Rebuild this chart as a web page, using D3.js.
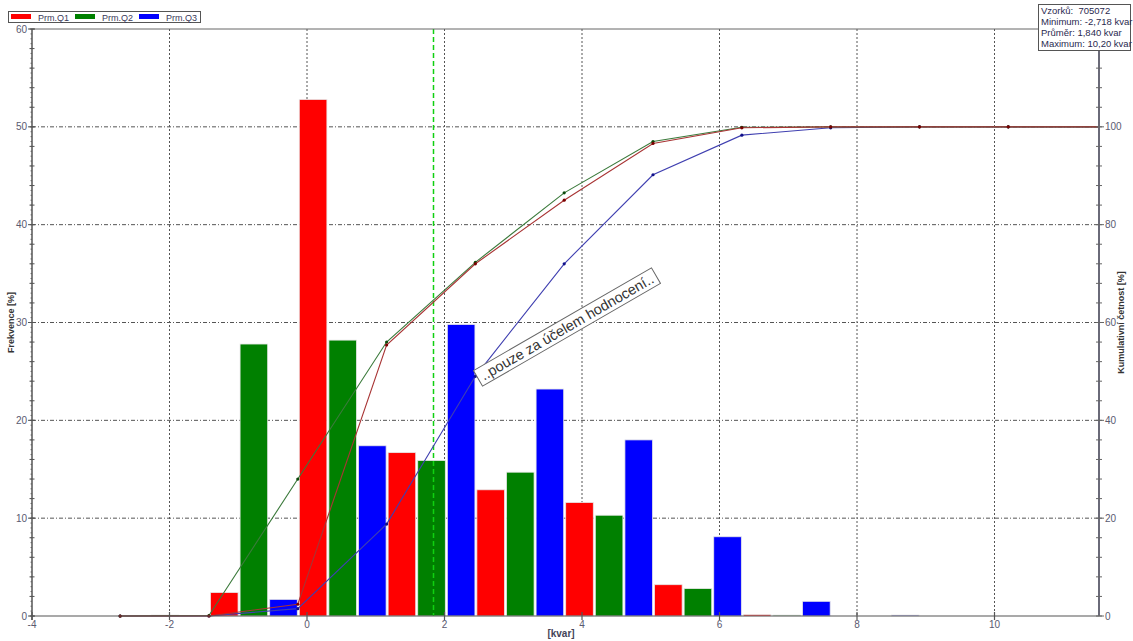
<!DOCTYPE html>
<html><head><meta charset="utf-8">
<script src="https://cdn.jsdelivr.net/npm/d3@7"></script>
<style>
body{margin:0;background:#fff;}
text{font-family:"Liberation Sans",Arial,sans-serif;}
</style></head>
<body><svg id="c" width="1133" height="641"></svg>
<script>
// ---- data ----
const series = ["Prm.Q1","Prm.Q2","Prm.Q3"];
const barColors = ["#ff0000","#008000","#0000ff"];
const lineColors = ["#a83434","#3b7a3b","#3f3fb0"];
const markColors = ["#7a0000","#0b4a0b","#10108a"];
// bin edges (10 bins from minimum to maximum)
const binEdges = [-2.718,-1.426,-0.134,1.158,2.449,3.741,5.033,6.325,7.617,8.909,10.20];
const freqQ1 = [0, 2.4, 52.8, 16.7, 12.9, 11.6, 3.2, 0.15, 0, 0];
const freqQ2 = [0.1, 27.8, 28.2, 15.9, 14.7, 10.3, 2.8, 0.1, 0, 0];
const freqQ3 = [0, 1.7, 17.4, 29.8, 23.2, 18.0, 8.1, 1.5, 0.1, 0];
const cumQ1 = [0, 0, 2.4, 55.4, 72.0, 85.0, 96.6, 99.8, 100, 100, 100];
const cumQ2 = [0, 0.1, 28.0, 56.0, 72.3, 86.5, 97.0, 99.9, 100, 100, 100];
const cumQ3 = [0, 0, 1.5, 18.8, 49.0, 72.0, 90.2, 98.3, 99.8, 100, 100];
const meanValue = 1.840;
const xTicks = [-4,-2,0,2,4,6,8,10];
const yTicks = [0,10,20,30,40,50,60];
const yRightTicks = [0,20,40,60,80,100];
const statsLines = ["Vzorků:  705072","Minimum: -2,718 kvar","Průměr: 1,840 kvar","Maximum: 10,20 kvar"];
const annotation = "..pouze za účelem hodnocení..";
const xLabel = "[kvar]";
const yLabel = "Frekvence [%]";
const yRightLabel = "Kumulativní četnost [%]";

const freqs = [freqQ1,freqQ2,freqQ3];
const cums = [cumQ1,cumQ2,cumQ3];

// ---- layout ----
const L = 32, R = 1099, T = 29, B = 616;
const svg = d3.select("#c");
const x = d3.scaleLinear().domain([-4, 11.52]).range([L, R]);
const y = d3.scaleLinear().domain([0, 60]).range([B, T]);
const y2 = d3.scaleLinear().domain([0, 120]).range([B, T]);
const tickCol = "#5a5a70";

// grid
const grid = svg.append("g");
xTicks.filter(v => v > -4).forEach(v => {
  grid.append("line").attr("x1", x(v)).attr("x2", x(v)).attr("y1", T).attr("y2", B)
    .attr("stroke", "#555").attr("stroke-width", 1).attr("stroke-dasharray", "2,2");
});
yTicks.filter(v => v > 0 && v < 60).forEach(v => {
  grid.append("line").attr("x1", L).attr("x2", R).attr("y1", y(v)).attr("y2", y(v))
    .attr("stroke", "#555").attr("stroke-width", 1).attr("stroke-dasharray", "4,2,1,2");
});

// bars
const bars = svg.append("g");
const bw = x(binEdges[1]) - x(binEdges[0]);
const slot = bw / 3;
freqs.forEach((f, si) => {
  bars.selectAll(null).data(f).enter().append("rect")
    .attr("x", (d, i) => x(binEdges[i]) + si * slot + 1.5)
    .attr("width", slot - 2)
    .attr("y", d => y(d))
    .attr("height", d => B - y(d))
    .attr("fill", barColors[si])
    .attr("stroke", "#e8e8e8").attr("stroke-width", d => d > 0 ? 0.8 : 0);
});

// mean line
svg.append("line").attr("x1", x(meanValue)).attr("x2", x(meanValue)).attr("y1", T).attr("y2", B)
  .attr("stroke", "#10d010").attr("stroke-width", 1.5).attr("stroke-dasharray", "5,3");

// cumulative curves (drawn Q3, Q2, Q1 so Q1 is on top)
const line = d3.line().x(d => x(d[0])).y(d => y2(d[1]));
[2, 1, 0].forEach(si => {
  const c = cums[si];
  const pts = binEdges.map((e, i) => [e, c[i]]);
  const ext = pts.concat([[x.domain()[1], c[c.length - 1]]]);
  svg.append("path").attr("d", line(ext)).attr("fill", "none")
    .attr("stroke", lineColors[si]).attr("stroke-width", 1.1);
  svg.append("g").selectAll("circle").data(pts).enter().append("circle")
    .attr("cx", d => x(d[0])).attr("cy", d => y2(d[1])).attr("r", 1.6)
    .attr("fill", markColors[si]);
});

// frame
svg.append("line").attr("x1", L).attr("x2", R).attr("y1", T).attr("y2", T).attr("stroke", "#666").attr("stroke-width", 1);
svg.append("line").attr("x1", L).attr("x2", R).attr("y1", B).attr("y2", B).attr("stroke", "#555").attr("stroke-width", 1.2);
svg.append("line").attr("x1", L).attr("x2", L).attr("y1", T).attr("y2", B + 4).attr("stroke", "#555").attr("stroke-width", 1.5);
svg.append("line").attr("x1", R).attr("x2", R).attr("y1", T - 6).attr("y2", B).attr("stroke", "#6a6a78").attr("stroke-width", 2);

// left axis ticks
const ax = svg.append("g");
d3.range(0, 60.01, 0.5).forEach(v => {
  ax.append("line").attr("x1", L - 1.5).attr("x2", L).attr("y1", y(v)).attr("y2", y(v)).attr("stroke", "#555").attr("stroke-width", 0.8);
});
d3.range(0, 60.01, 2).forEach(v => {
  ax.append("line").attr("x1", L - 2.5).attr("x2", L + 2.5).attr("y1", y(v)).attr("y2", y(v)).attr("stroke", "#555");
});
yTicks.forEach(v => {
  ax.append("line").attr("x1", L - 4).attr("x2", L + 3).attr("y1", y(v)).attr("y2", y(v)).attr("stroke", "#555");
  ax.append("text").attr("x", L - 5).attr("y", y(v) + 3.5).attr("text-anchor", "end")
    .attr("font-size", 10).attr("fill", tickCol).text(v);
});
// right axis ticks
d3.range(0, 120.01, 4).forEach(v => {
  ax.append("line").attr("x1", R - 3).attr("x2", R + 3).attr("y1", y2(v)).attr("y2", y2(v)).attr("stroke", "#666");
});
yRightTicks.forEach(v => {
  ax.append("line").attr("x1", R).attr("x2", R + 5).attr("y1", y2(v)).attr("y2", y2(v)).attr("stroke", "#666");
  ax.append("text").attr("x", R + 6).attr("y", y2(v) + 3.5).attr("text-anchor", "start")
    .attr("font-size", 10).attr("fill", tickCol).text(v);
});
// x ticks
xTicks.forEach(v => {
  ax.append("line").attr("x1", x(v)).attr("x2", x(v)).attr("y1", B - 4).attr("y2", B + 4).attr("stroke", "#555").attr("stroke-width", 1.2);
  ax.append("text").attr("x", x(v)).attr("y", B + 12).attr("text-anchor", "middle")
    .attr("font-size", 10).attr("fill", tickCol).text(v);
});

// axis labels
svg.append("text").attr("x", 561).attr("y", 637).attr("text-anchor", "middle")
  .attr("font-size", 10).attr("font-weight", "bold").attr("fill", "#444458").text(xLabel);
svg.append("text").attr("transform", `translate(14,${(T + B) / 2}) rotate(-90)`).attr("text-anchor", "middle")
  .attr("font-size", 9).attr("font-weight", "bold").attr("fill", "#333").text(yLabel);
svg.append("text").attr("transform", `translate(1124,${(T + B) / 2}) rotate(-90)`).attr("text-anchor", "middle")
  .attr("font-size", 9).attr("font-weight", "bold").attr("fill", "#333").text(yRightLabel);

// legend
const lg = svg.append("g");
lg.append("rect").attr("x", 8.5).attr("y", 11.5).attr("width", 192).attr("height", 11)
  .attr("fill", "#fff").attr("stroke", "#555");
const legX = [11, 75, 139];
series.forEach((s, i) => {
  lg.append("rect").attr("x", legX[i]).attr("y", 14).attr("width", 20).attr("height", 5).attr("fill", barColors[i]);
  lg.append("text").attr("x", legX[i] + 27).attr("y", 20.5).attr("font-size", 9).attr("fill", "#3a3a5a").text(s);
});

// stats box
const sb = svg.append("g");
sb.append("rect").attr("x", 1038.5).attr("y", 4.5).attr("width", 92).attr("height", 46)
  .attr("fill", "#fff").attr("stroke", "#555");
statsLines.forEach((t, i) => {
  sb.append("text").attr("x", 1041).attr("y", 14 + i * 11).attr("font-size", 9.5).attr("fill", "#2a2a50")
    .attr("xml:space", "preserve").style("white-space", "pre").text(t);
});

// annotation
const an = svg.append("g").attr("transform", "translate(567,327) rotate(-30)");
const at = an.append("text").attr("x", 0).attr("y", 5).attr("text-anchor", "middle")
  .attr("font-size", 14.5).attr("fill", "#333").text(annotation);
const bb = at.node().getBBox();
an.insert("rect", "text").attr("x", bb.x - 4).attr("y", bb.y - 1).attr("width", bb.width + 8).attr("height", bb.height + 2)
  .attr("fill", "#fff").attr("stroke", "#666").attr("stroke-width", 1);
</script></body></html>
